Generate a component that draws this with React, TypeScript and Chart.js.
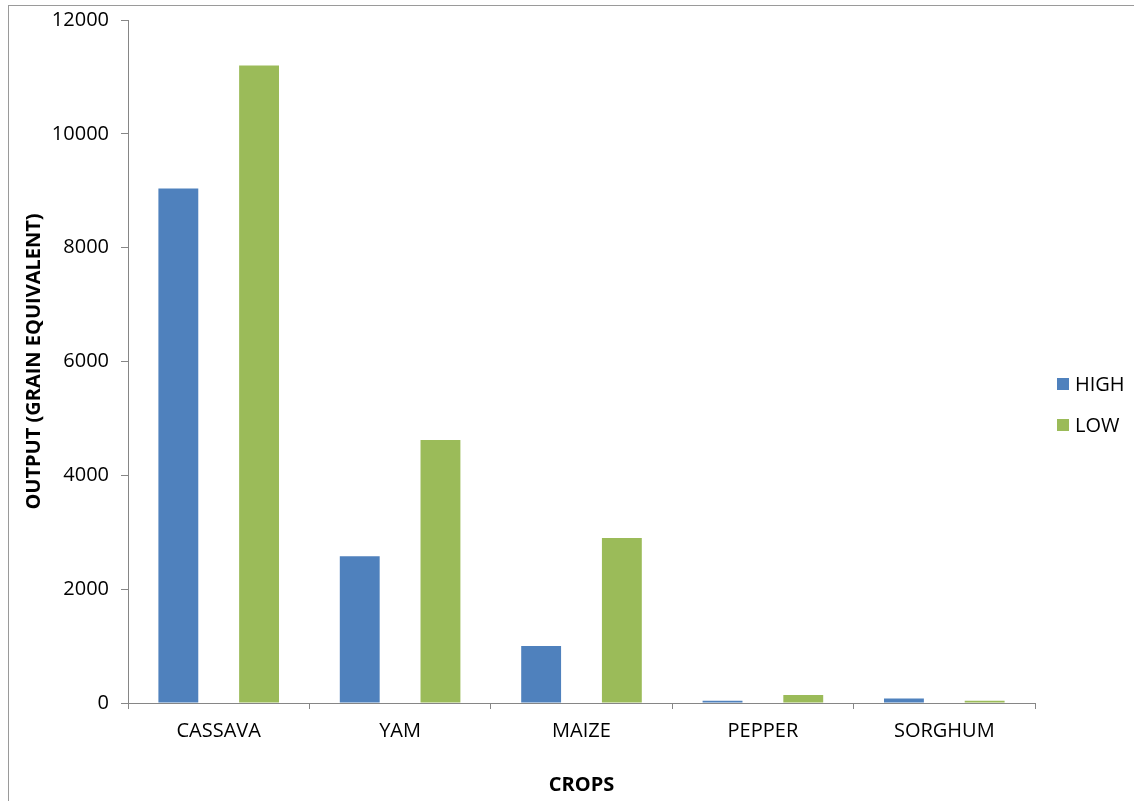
import React, { useEffect, useRef } from "react";
import { Chart, registerables } from "chart.js";

Chart.register(...registerables);

const categories = ["CASSAVA", "YAM", "MAIZE", "PEPPER", "SORGHUM"];
const seriesNames = ["HIGH", "LOW"];
const highValues = [9040, 2580, 1000, 40, 80];
const lowValues = [11200, 4620, 2900, 140, 40];
const yMin = 0;
const yMax = 12000;
const yStep = 2000;
const seriesColors = ["#4F81BD", "#9BBB59"];
const xTitle = "CROPS";
const yTitle = "OUTPUT (GRAIN EQUIVALENT)";

const FONT = "'Open Sans', 'DejaVu Sans', sans-serif";
const AXIS_COLOR = "#868686";

const sideLegend = {
  id: "sideLegend",
  afterDraw(chart: any) {
    const ctx = chart.ctx;
    ctx.save();
    ctx.font = `20px ${FONT}`;
    ctx.textBaseline = "middle";
    ctx.textAlign = "left";
    chart.data.datasets.forEach((ds: any, i: number) => {
      const y = 384 + i * 41;
      ctx.fillStyle = ds.backgroundColor;
      ctx.fillRect(1057, y - 6, 12, 12);
      ctx.fillStyle = "#000";
      ctx.fillText(ds.label, 1075, y + 1);
    });
    ctx.restore();
  },
};

export default function App() {
  const ref = useRef<HTMLCanvasElement>(null);

  useEffect(() => {
    if (!ref.current) return;
    const chart = new Chart(ref.current, {
      type: "bar",
      data: {
        labels: categories,
        datasets: [
          {
            label: seriesNames[0],
            data: highValues,
            backgroundColor: seriesColors[0],
            categoryPercentage: 0.89,
            barPercentage: 0.494,
          },
          {
            label: seriesNames[1],
            data: lowValues,
            backgroundColor: seriesColors[1],
            categoryPercentage: 0.89,
            barPercentage: 0.494,
          },
        ],
      },
      options: {
        animation: false,
        responsive: false,
        maintainAspectRatio: false,
        layout: { padding: { left: 22, right: 100, top: 20, bottom: 0 } },
        plugins: {
          legend: { display: false },
          tooltip: { enabled: false },
        },
        scales: {
          x: {
            grid: {
              display: true,
              drawOnChartArea: false,
              drawTicks: true,
              tickLength: 6,
              color: AXIS_COLOR,
              offset: true,
            },
            border: { color: AXIS_COLOR, width: 1 },
            ticks: {
              color: "#000",
              font: { family: FONT, size: 20 },
              padding: 10,
              maxRotation: 0,
            },
            title: {
              display: true,
              text: xTitle,
              color: "#000",
              font: { family: FONT, size: 20, weight: "bold" },
              padding: { top: 0, bottom: 4 },
            },
            afterFit: (scale: any) => {
              scale.height = 98;
              scale.paddingLeft = 0;
              scale.paddingRight = 0;
            },
          },
          y: {
            min: yMin,
            max: yMax,
            grid: {
              display: true,
              drawOnChartArea: false,
              drawTicks: true,
              tickLength: 7,
              color: AXIS_COLOR,
            },
            border: { color: AXIS_COLOR, width: 1 },
            ticks: {
              stepSize: yStep,
              color: "#000",
              font: { family: FONT, size: 20 },
              padding: 12,
              callback: (v: any) => String(v),
            },
            title: {
              display: true,
              text: yTitle,
              color: "#000",
              font: { family: FONT, size: 20, weight: "bold" },
              padding: { top: 0, bottom: 0 },
            },
            afterFit: (scale: any) => {
              scale.width = 106;
              scale.paddingTop = 0;
              scale.paddingBottom = 0;
            },
          },
        },
      },
      plugins: [sideLegend],
    });
    return () => chart.destroy();
  }, []);

  return (
    <div style={{ position: "absolute", left: 0, top: 0, width: 1135, height: 801, background: "#fff" }}>
      <div
        style={{
          position: "absolute",
          left: 8,
          top: 5,
          width: 1126,
          height: 796,
          borderTop: "1px solid #9a9a9a",
          borderLeft: "1px solid #9a9a9a",
          boxSizing: "border-box",
        }}
      />
      <canvas ref={ref} width={1135} height={801} style={{ position: "absolute", left: 0, top: 0 }} />
    </div>
  );
}
